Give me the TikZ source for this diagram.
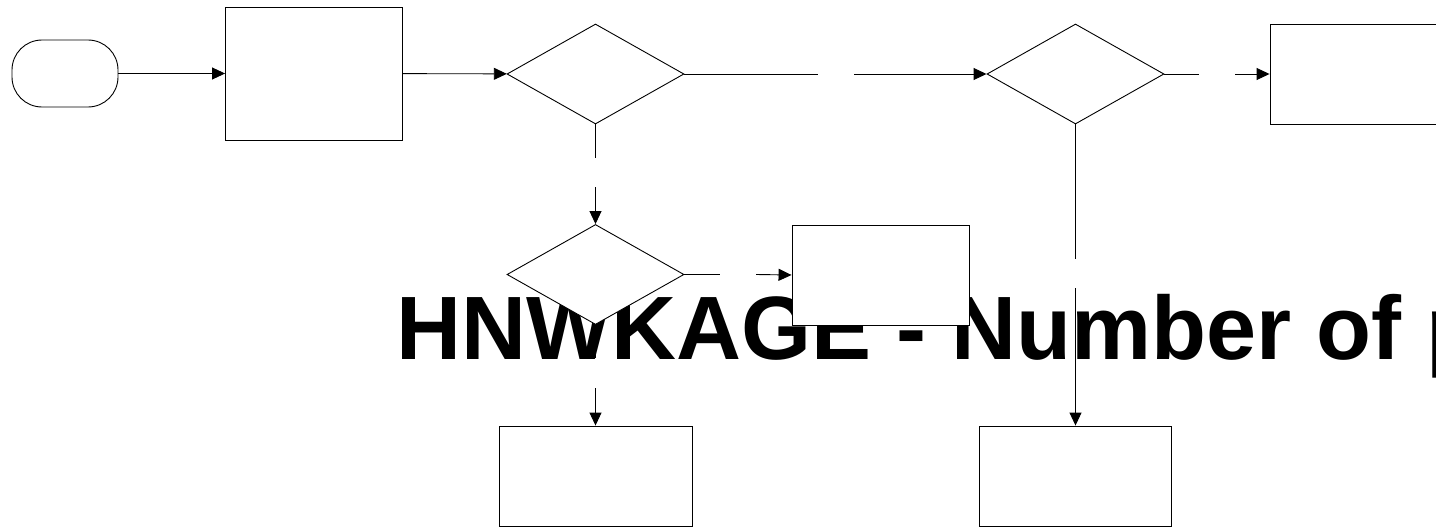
\documentclass[tikz,border=0pt]{standalone}
\usepackage{fontspec}
\newfontfamily\headfont{Liberation Sans}
\usetikzlibrary{arrows.meta,positioning,shapes.geometric}

\begin{document}
\begin{tikzpicture}[x=1pt,y=-1pt,line width=0.9pt,
    flow/.style={-{Triangle[length=13pt,width=12pt]}},
    terminal/.style={draw,fill=white,rounded corners=30pt,minimum width=106pt,minimum height=67pt,inner sep=0pt},
    procbox/.style={draw,fill=white,minimum width=177pt,minimum height=100pt,inner sep=0pt},
    decide/.style={draw,fill=white,diamond,minimum width=177pt,minimum height=100pt,inner sep=0pt},
    headline/.style={anchor=base west,inner sep=0pt,font=\headfont\bfseries\fontsize{90}{100}\selectfont}]
  \useasboundingbox (0,0) rectangle (1436,527);
  \clip (0,0) rectangle (1436,527);

  % title sits behind the chart
  \node[headline] (title) at (396.5,359) {HNWKAGE - Number of p};

  % shapes
  \node[terminal] (start) at (65,73.5) {};
  \node[procbox, minimum height=133pt] (prep) at (314,73.5) {};
  \node[decide] (dec1) at (595.5,74) {};
  \node[decide] (dec2) at (1075.5,74) {};
  \node[procbox] (outA) at (1358.5,74) {};
  \node[decide] (dec3) at (595.5,274.5) {};
  \node[procbox] (outB) at (880.5,275) {};
  \node[procbox, minimum width=193pt] (outC) at (595.5,476) {};
  \node[procbox, minimum width=192pt] (outD) at (1075,476) {};

  % break points of the cut connectors
  \coordinate (c1a) at (818,74);   \coordinate (c1b) at (854,74);
  \coordinate (c2a) at (1199,74);  \coordinate (c2b) at (1235,74);
  \coordinate (c3a) at (595.5,158); \coordinate (c3b) at (595.5,187);
  \coordinate (c4a) at (720,274.5); \coordinate (c4b) at (756,274.5);
  \coordinate (c5a) at (595.5,358); \coordinate (c5b) at (595.5,388);
  \coordinate (c6a) at (1075.5,259); \coordinate (c6b) at (1075.5,288);

  % connectors
  \draw[flow] (start) -- (prep);
  \draw[flow] (prep) -- (dec1);
  \draw (dec1.east) -- (c1a);
  \draw[flow] (c1b) -- (dec2.west);
  \draw (dec2.east) -- (c2a);
  \draw[flow] (c2b) -- (outA.west);
  \draw (dec1.south) -- (c3a);
  \draw[flow] (c3b) -- (dec3.north);
  \draw (dec3.east) -- (c4a);
  \draw[flow] (c4b) -- (outB.west);
  \draw (dec3.south) -- (c5a);
  \draw[flow] (c5b) -- (outC.north);
  \draw (dec2.south) -- (c6a);
  \draw[flow] (c6b) -- (outD.north -| c6b);
\end{tikzpicture}
\end{document}
